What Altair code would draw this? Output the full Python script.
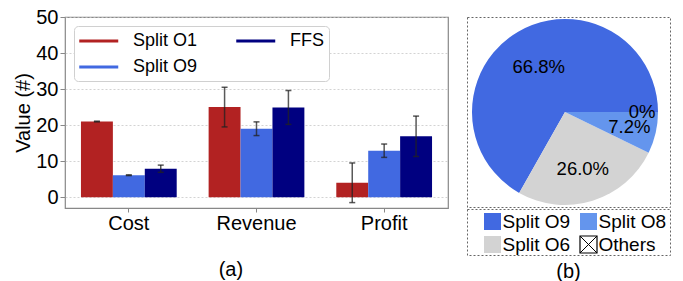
import math
import altair as alt
import pandas as pd

# ---- bar chart data ----
categories = ["Cost", "Revenue", "Profit"]
series = ["Split O1", "Split O9", "FFS"]
o1_vals = [21.0, 25.0, 4.0]
o1_err = [0.1, 5.5, 5.5]
o9_vals = [6.1, 19.0, 12.9]
o9_err = [0.1, 1.9, 1.85]
ffs_vals = [7.9, 24.9, 16.9]
ffs_err = [1.0, 4.7, 5.6]
bar_colors = ["#B22222", "#4169E1", "#000080"]
y_ticks = [0, 10, 20, 30, 40, 50]

# ---- pie data ----
pie_labels = ["Split O9", "Split O6", "Split O8", "Others"]
pie_values = [66.8, 26.0, 7.2, 0.0]
pie_colors = ["#4169E1", "#D3D3D3", "#6495ED", "#FFFFFF"]

FONT = "Liberation Sans"

rows = []
for s, vals, errs in [("Split O1", o1_vals, o1_err), ("Split O9", o9_vals, o9_err), ("FFS", ffs_vals, ffs_err)]:
    for c, v, e in zip(categories, vals, errs):
        rows.append({"category": c, "series": s, "value": v, "lo": v - e, "hi": v + e})
bar_df = pd.DataFrame(rows)

color_scale = alt.Scale(domain=series, range=bar_colors)

x_scale = alt.Scale(paddingInner=0.25, paddingOuter=0.125)
x_axis = alt.Axis(labelAngle=0, labelFontSize=20, labelColor="black", tickColor="#888",
                  tickSize=4, labelPadding=1, domain=False, grid=False)
x_enc = alt.X("category:N", sort=categories, title=None, scale=x_scale, axis=x_axis)
xo_enc = alt.XOffset("series:N", sort=series, scale=alt.Scale(paddingInner=0, paddingOuter=0))
y_scale = alt.Scale(domain=[-3, 50], nice=False, zero=False)
y_axis = alt.Axis(values=y_ticks, labelFontSize=20, labelColor="black", titleFontSize=20,
                  titleFontWeight="normal", titleColor="black", titlePadding=2,
                  tickColor="#888", tickSize=5, labelPadding=2, domain=False,
                  labelOverlap=False, labelFlush=False,
                  grid=True, gridColor="#c8c8c8", gridDash=[2, 2], gridWidth=0.8)

bars = alt.Chart(bar_df).mark_bar().encode(
    x=x_enc, xOffset=xo_enc,
    y=alt.Y("value:Q", scale=y_scale, title="Value (#)", axis=y_axis),
    y2=alt.datum(0),
    color=alt.Color("series:N", scale=color_scale, title=None,
                    legend=alt.Legend(orient="top-left", columns=2,
                                      symbolType="M-1,-0.16H3V0.16H-1Z",
                                      symbolSize=380, symbolStrokeWidth=0, symbolOpacity=1,
                                      labelFontSize=18,
                                      labelColor="black", labelOffset=34, columnPadding=38,
                                      rowPadding=7, padding=5, offset=9, strokeColor="#d0d0d0",
                                      fillColor="white", cornerRadius=4, labelFont=FONT)),
)

err_rule = alt.Chart(bar_df).mark_rule(color="#222", opacity=0.75, strokeWidth=1.5).encode(
    x=x_enc, xOffset=xo_enc,
    y=alt.Y("lo:Q", scale=y_scale, title="Value (#)", axis=y_axis), y2="hi:Q")
cap_lo = alt.Chart(bar_df).mark_tick(color="#222", opacity=0.75, thickness=1.5, size=6).encode(
    x=x_enc, xOffset=xo_enc, y=alt.Y("lo:Q", scale=y_scale, title="Value (#)", axis=y_axis))
cap_hi = alt.Chart(bar_df).mark_tick(color="#222", opacity=0.75, thickness=1.5, size=6).encode(
    x=x_enc, xOffset=xo_enc, y=alt.Y("hi:Q", scale=y_scale, title="Value (#)", axis=y_axis))

left = alt.layer(bars, err_rule, cap_lo, cap_hi).properties(
    width=383, height=191,
    view=alt.ViewBackground(stroke="#888", strokeWidth=1.2),
    title=alt.TitleParams("(a)", orient="bottom", anchor="middle", frame="bounds", fontSize=20,
                          fontWeight="normal", color="black", offset=27, font=FONT),
)

# ---- pie ----
pie_df = pd.DataFrame({
    "plabel": pie_labels,
    "share": pie_values,
    "idx": list(range(len(pie_labels))),
    "pct": [f"{v:.1f}%" if v > 0 else "0%" for v in pie_values],
})
pie_scale = alt.Scale(domain=pie_labels, range=pie_colors)
theta_scale = alt.Scale(domain=[0, 100], range=[math.pi / 2, math.pi / 2 + 2 * math.pi])

arcs = alt.Chart(pie_df).mark_arc(outerRadius=93).encode(
    theta=alt.Theta("share:Q", stack=True, scale=theta_scale),
    order=alt.Order("idx:Q", sort="descending"),
    fill=alt.Fill("plabel:N", scale=pie_scale, legend=None),
    x=alt.value(98), y=alt.value(95))
texts = alt.Chart(pie_df).transform_window(
    cum="sum(share)", sort=[alt.SortField("idx", order="descending")], frame=[None, 0]
).transform_calculate(
    mid="datum.cum - datum.share / 2",
    r="datum.share == 0 ? 77 : (datum.share < 10 ? 66 : (datum.share > 50 ? 52 : 60))"
).mark_text(fontSize=18.5, color="black", font=FONT).encode(
    theta=alt.Theta("mid:Q", stack=None, scale=theta_scale),
    text="pct:N", radius=alt.Radius("r:Q", scale=None), x=alt.value(98), y=alt.value(95))

pie = alt.layer(arcs, texts).properties(
    width=203, height=190,
    view=alt.ViewBackground(stroke="#666", strokeDash=[2, 2], strokeWidth=1))

leg_df = pd.DataFrame({
    "plabel": pie_labels,
    "col": [i // 2 for i in range(len(pie_labels))],
    "row": [i % 2 for i in range(len(pie_labels))],
})
lx = alt.X("col:O", axis=None, scale=alt.Scale(range=[25.5, 121.5], padding=0))
ly = alt.Y("row:O", axis=None, scale=alt.Scale(range=[12.5, 35.5], padding=0))
sw = alt.Chart(leg_df).mark_square(size=289, opacity=1, strokeWidth=1.2).encode(
    x=lx, y=ly,
    fill=alt.Fill("plabel:N", scale=pie_scale, legend=None),
    stroke=alt.condition("datum.plabel === 'Others'", alt.value("black"), alt.value("transparent")))
xmark = alt.Chart(leg_df).transform_filter("datum.plabel === 'Others'").mark_point(
    shape="M-1,-1L1,1M-1,1L1,-1", size=289, filled=False, color="black", strokeWidth=1, opacity=1
).encode(x=lx, y=ly)
ltxt = alt.Chart(leg_df).mark_text(align="left", baseline="middle", dx=10, fontSize=19,
                                   color="black", font=FONT).encode(x=lx, y=ly, text="plabel:N")
pie_leg = alt.layer(sw, xmark, ltxt).properties(
    width=203, height=46,
    view=alt.ViewBackground(stroke="#666", strokeDash=[2, 2], strokeWidth=1))

right = alt.vconcat(pie, pie_leg, spacing=0).properties(
    title=alt.TitleParams("(b)", orient="bottom", anchor="middle", frame="bounds", fontSize=20,
                          fontWeight="normal", color="black", offset=6, font=FONT))

chart = alt.hconcat(left, right, spacing=19, bounds="flush").resolve_scale(
    color="independent", fill="independent", x="independent", y="independent"
).properties(
    padding={"top": -2, "left": 5, "right": 0, "bottom": 0}
).configure(font=FONT).configure_view(stroke=None).configure_axis(labelFont=FONT, titleFont=FONT)

chart.save("out.html", embed_options={"renderer": "svg", "actions": False})
